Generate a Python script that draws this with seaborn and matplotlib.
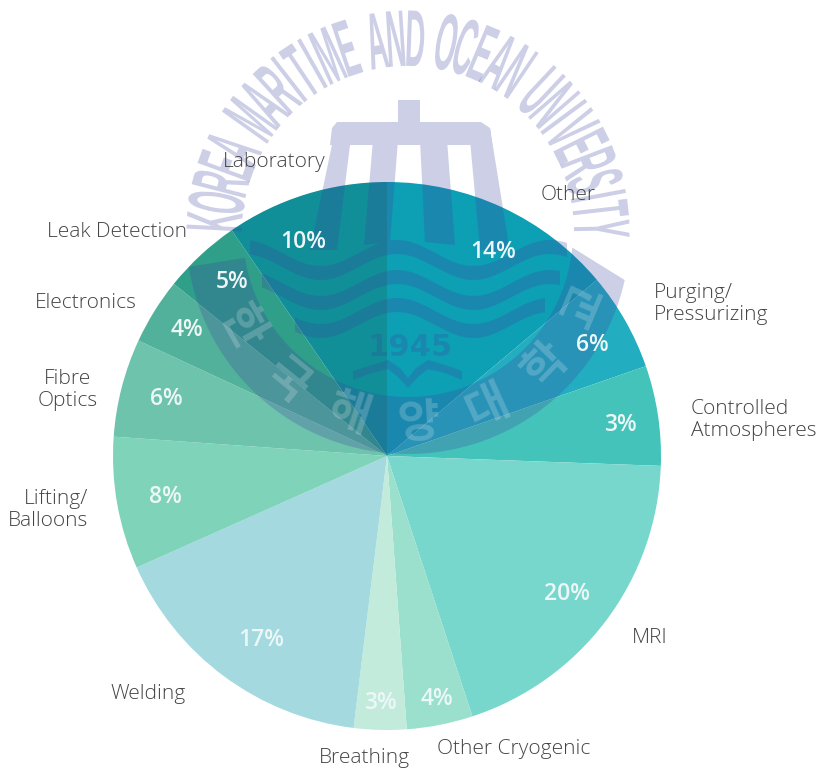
import numpy as np
import matplotlib
matplotlib.use("Agg")
import matplotlib.pyplot as plt
import seaborn as sns
from matplotlib.patches import PathPatch
from matplotlib.path import Path
from matplotlib.patheffects import AbstractPathEffect
from matplotlib.transforms import Affine2D

W, H = 821, 770

# clockwise from 12 o'clock
categories = ["Other", "Purging/\nPressurizing", "Controlled\nAtmospheres", "MRI", "Other Cryogenic",
              "Breathing", "Welding", "Lifting/\nBalloons", "Fibre\nOptics", "Electronics",
              "Leak Detection", "Laboratory"]
# printed percentages
pct_labels = [14, 6, 3, 20, 4, 3, 17, 8, 6, 4, 5, 10]
# size of each slice as drawn (the picture does not follow its printed numbers exactly)
slice_shares = [13.9, 5.8, 5.9, 19.4, 3.9, 3.1, 16.4, 7.8, 5.8, 3.9, 4.6, 9.6]
slice_colors = ["#0d9fb4", "#22adc0", "#43c3b9", "#78d7cc", "#9bdfcd", "#c2ebdc",
                "#a3d9df", "#7ed3b9", "#6ec3ad", "#52b19a", "#2f9f8a", "#108f98"]

# label anchors in picture pixels
label_pos = [(568, 195, "center"), (654, 304, "left"), (691, 420, "left"), (632, 638, "left"),
             (437, 749, "left"), (319, 758, "left"), (186, 694, "right"), (88, 510, "right"),
             (68, 390, "center"), (137, 303, "right"), (187, 232, "right"), (326, 162, "right")]
pct_pos = [(493, 252), (592, 345), (620, 425), (567, 594), (437, 699), (380, 703),
           (261, 640), (165, 497), (166, 399), (187, 330), (232, 282), (303, 242)]

seal_text = "KOREA MARITIME AND OCEAN UNIVERSITY"
seal_korean = "한국해양대학교"
seal_year = "1945"

SEAL_RGB = (60 / 255, 70 / 255, 160 / 255)
SEAL_ALPHA = 0.26
SEAL_X, SEAL_Y = 408, 232


class TallText(AbstractPathEffect):
    # stretches glyphs away from the baseline, the seal lettering is very condensed
    def __init__(self, sy):
        self.sy = sy

    def draw_path(self, renderer, gc, tpath, affine, rgbFace=None):
        renderer.draw_path(gc, tpath, Affine2D().scale(1, self.sy) + affine, rgbFace)


def ccw(pts):
    pts = np.asarray(pts, dtype=float)
    x, y = pts[:, 0], pts[:, 1]
    if np.sum(x * np.roll(y, -1) - np.roll(x, -1) * y) < 0:
        pts = pts[::-1]
    return pts


def flip(pts):
    return [(x, H - y) for x, y in pts]


def arc_xy(r, a0, a1, n=80):
    a = np.radians(np.linspace(a0, a1, n))
    return np.column_stack([SEAL_X + r * np.cos(a), H - SEAL_Y + r * np.sin(a)])


def wave(y_mid, x0, x1, thick=14, amp=13):
    x = np.linspace(x0, x1, 90)
    y = y_mid - amp * np.cos(2 * np.pi * (x - 397) / 153)
    top = np.column_stack([x, H - (y - thick / 2)])
    bot = np.column_stack([x, H - (y + thick / 2)])
    return np.vstack([top, bot[::-1]])


sns.set_theme(style="white")
plt.rcParams["font.family"] = ["Open Sans", "DejaVu Sans"]

fig, ax = plt.subplots(figsize=(W / 100, H / 100), dpi=100)
ax.set_position([0, 0, 1, 1])

ax.pie(slice_shares, colors=sns.color_palette(slice_colors), startangle=90, counterclock=False,
       center=(387, H - 456), radius=274, wedgeprops={"linewidth": 0})
ax.set_xlim(0, W)
ax.set_ylim(0, H)
ax.set_aspect("auto")
ax.axis("off")

# seal watermark, all one compound path so overlaps do not get darker
ring = np.vstack([arc_xy(222, 189, 347.5), arc_xy(165, 354.6, 189)])
crown = [
    flip([(398, 100), (420, 100), (420, 122), (398, 122)]),
    flip([(337, 122), (481, 122), (490, 128), (492, 145), (330, 145), (332, 128)]),
    flip([(333, 140), (350, 145), (337, 250), (310, 250)]),
    flip([(373, 140), (398, 140), (390, 242), (364, 245)]),
    flip([(420, 140), (447, 140), (455, 245), (425, 242)]),
    flip([(470, 140), (490, 128), (510, 252), (480, 250)]),
]
waves = [wave(260, 250, 567), wave(290, 262, 560), wave(318, 295, 545)]
book = [
    flip([(353, 371), (372, 365), (388, 360), (400, 368), (408, 378), (416, 368), (428, 360), (445, 365),
          (462, 371), (462, 380), (445, 373), (428, 369), (418, 377), (408, 388), (398, 377), (388, 369),
          (372, 373), (353, 380)]),
]
polys = [ring] + crown + waves + book
verts, codes = [], []
for p in polys:
    p = ccw(p)
    verts.extend(p.tolist() + [p[0].tolist()])
    codes.extend([Path.MOVETO] + [Path.LINETO] * (len(p) - 1) + [Path.CLOSEPOLY])
ax.add_patch(PathPatch(Path(verts, codes), facecolor=SEAL_RGB, edgecolor="none", alpha=SEAL_ALPHA, zorder=5))

# arc lettering, left to right over the top
weights = [{"I": 0.55, "M": 1.2, " ": 0.6, "T": 0.9, "E": 0.9}.get(c, 1.0) for c in seal_text]
edges = np.cumsum([0] + weights)
mids = (edges[:-1] + edges[1:]) / 2
angles = 177 + (1 - 177) * (mids - mids[0]) / (mids[-1] - mids[0])
for ch, a in zip(seal_text, angles):
    t = np.radians(a)
    ax.text(SEAL_X + 166 * np.cos(t), H - SEAL_Y + 166 * np.sin(t), ch, rotation=a - 90, rotation_mode="anchor",
            ha="center", va="baseline", fontsize=20, fontweight="bold", color=SEAL_RGB, alpha=SEAL_ALPHA, zorder=5,
            family=["Liberation Sans Narrow", "Liberation Sans"], path_effects=[TallText(2.9)])

# korean name sits in the ring, looks knocked out
for ch, a in zip(seal_korean, np.linspace(209.5, 337, len(seal_korean))):
    t = np.radians(a)
    ax.text(SEAL_X + 192 * np.cos(t), H - SEAL_Y + 192 * np.sin(t), ch, rotation=a + 90, rotation_mode="anchor",
            ha="center", va="center", fontsize=33, fontweight="bold", color="white", alpha=0.2, zorder=6,
            family=["Noto Sans CJK KR", "DejaVu Sans"])

ax.text(410, H - 347, seal_year, ha="center", va="center", fontsize=22, fontweight="bold", color=SEAL_RGB,
        alpha=SEAL_ALPHA, zorder=5, family="DejaVu Sans")

for name, (x, y, ha) in zip(categories, label_pos):
    ax.text(x, H - y, name, ha=ha, va="center", fontsize=15, fontweight="light", color="#444444",
            linespacing=1.15, zorder=7)

for val, (x, y) in zip(pct_labels, pct_pos):
    ax.text(x, H - y, f"{val}%", ha="center", va="center", fontsize=16.5, fontweight="semibold",
            color="#eef7f7", zorder=7)

fig.savefig("out.png", dpi=100)
